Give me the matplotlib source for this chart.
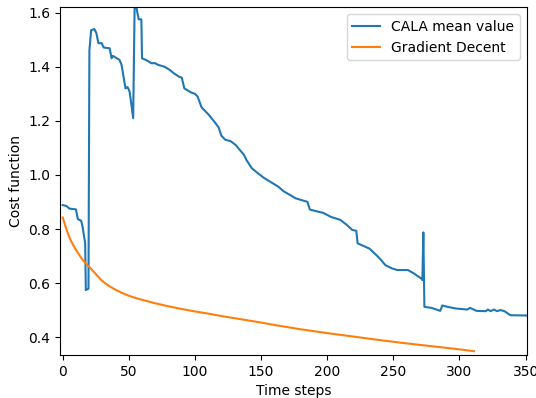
#!/usr/bin/env python3

import matplotlib
matplotlib.use("Agg")
import matplotlib.pyplot as plt
import numpy as np

# CALA mean value
cala_steps = [0, 3, 5, 10, 11.5, 14, 15, 17, 17.5, 19.5, 20.2, 21.5, 24, 25.5, 27, 29.5, 31,
              35.5, 37, 38, 41, 43, 44.5, 47.5, 49, 50.5, 51.5, 53.3, 54.5, 56.3, 57.5, 59.5,
              60, 63, 67, 70, 72, 77, 81, 84, 88, 90, 92, 97, 100, 102, 105, 110, 115, 118,
              120, 123, 127, 131, 134, 137, 139, 143, 148, 152, 157, 163, 167, 172, 176, 185,
              187, 197, 203, 210, 215, 219, 222, 223, 226, 232, 237, 240, 244, 249, 253, 261,
              265, 271, 272, 272.7, 273.5, 279, 285.5, 287, 291, 297, 306, 308, 313, 320,
              321.5, 323.5, 326, 328.5, 331, 334, 338.5, 351]
cala_cost = [0.889, 0.885, 0.876, 0.873, 0.837, 0.831, 0.81, 0.748, 0.575, 0.58, 1.46, 1.535,
             1.539, 1.524, 1.487, 1.487, 1.471, 1.468, 1.431, 1.44, 1.431, 1.425, 1.407, 1.32,
             1.325, 1.31, 1.277, 1.21, 1.66, 1.604, 1.575, 1.575, 1.431, 1.425, 1.413, 1.413,
             1.407, 1.40, 1.388, 1.376, 1.363, 1.36, 1.32, 1.305, 1.30, 1.29, 1.25, 1.225,
             1.195, 1.175, 1.145, 1.13, 1.125, 1.11, 1.092, 1.075, 1.055, 1.025, 1.005, 0.99,
             0.975, 0.957, 0.94, 0.926, 0.914, 0.901, 0.872, 0.86, 0.845, 0.834, 0.815, 0.797,
             0.794, 0.748, 0.741, 0.728, 0.705, 0.69, 0.667, 0.655, 0.649, 0.649, 0.638, 0.618,
             0.612, 0.788, 0.513, 0.509, 0.498, 0.518, 0.513, 0.507, 0.503, 0.509, 0.498,
             0.497, 0.503, 0.497, 0.503, 0.497, 0.501, 0.497, 0.482, 0.481]

# Gradient descent
gd_steps = [0, 1, 2, 3, 4, 5, 6, 7, 8, 9, 10, 12, 14, 16, 18, 20, 23, 26, 30, 35, 40, 45,
            50, 55, 60, 70, 80, 90, 100, 110, 120, 130, 140, 150, 160, 170, 180, 190, 200,
            220, 240, 260, 280, 300, 311]
gd_cost = [0.843, 0.828, 0.812, 0.797, 0.783, 0.771, 0.760, 0.750, 0.741, 0.732, 0.724,
           0.709, 0.694, 0.682, 0.671, 0.661, 0.645, 0.629, 0.608, 0.590, 0.576, 0.564,
           0.554, 0.546, 0.539, 0.526, 0.515, 0.505, 0.496, 0.488, 0.479, 0.471, 0.463,
           0.455, 0.446, 0.438, 0.430, 0.423, 0.416, 0.403, 0.390, 0.378, 0.367, 0.356, 0.349]

fig = plt.figure(figsize=(5.36, 3.98), dpi=100)
ax = fig.add_axes([0.112, 0.108, 0.871, 0.874])

ax.plot(cala_steps, cala_cost, label="CALA mean value")
ax.plot(gd_steps, gd_cost, label="Gradient Decent")

ax.set_xlim(-2, 351)
ax.set_ylim(0.335, 1.62)
ax.set_xticks(np.arange(0, 351, 50))
ax.set_xlabel("Time steps")
ax.set_ylabel("Cost function")
ax.legend(loc="upper right")

fig.savefig("out.png", dpi=100)
